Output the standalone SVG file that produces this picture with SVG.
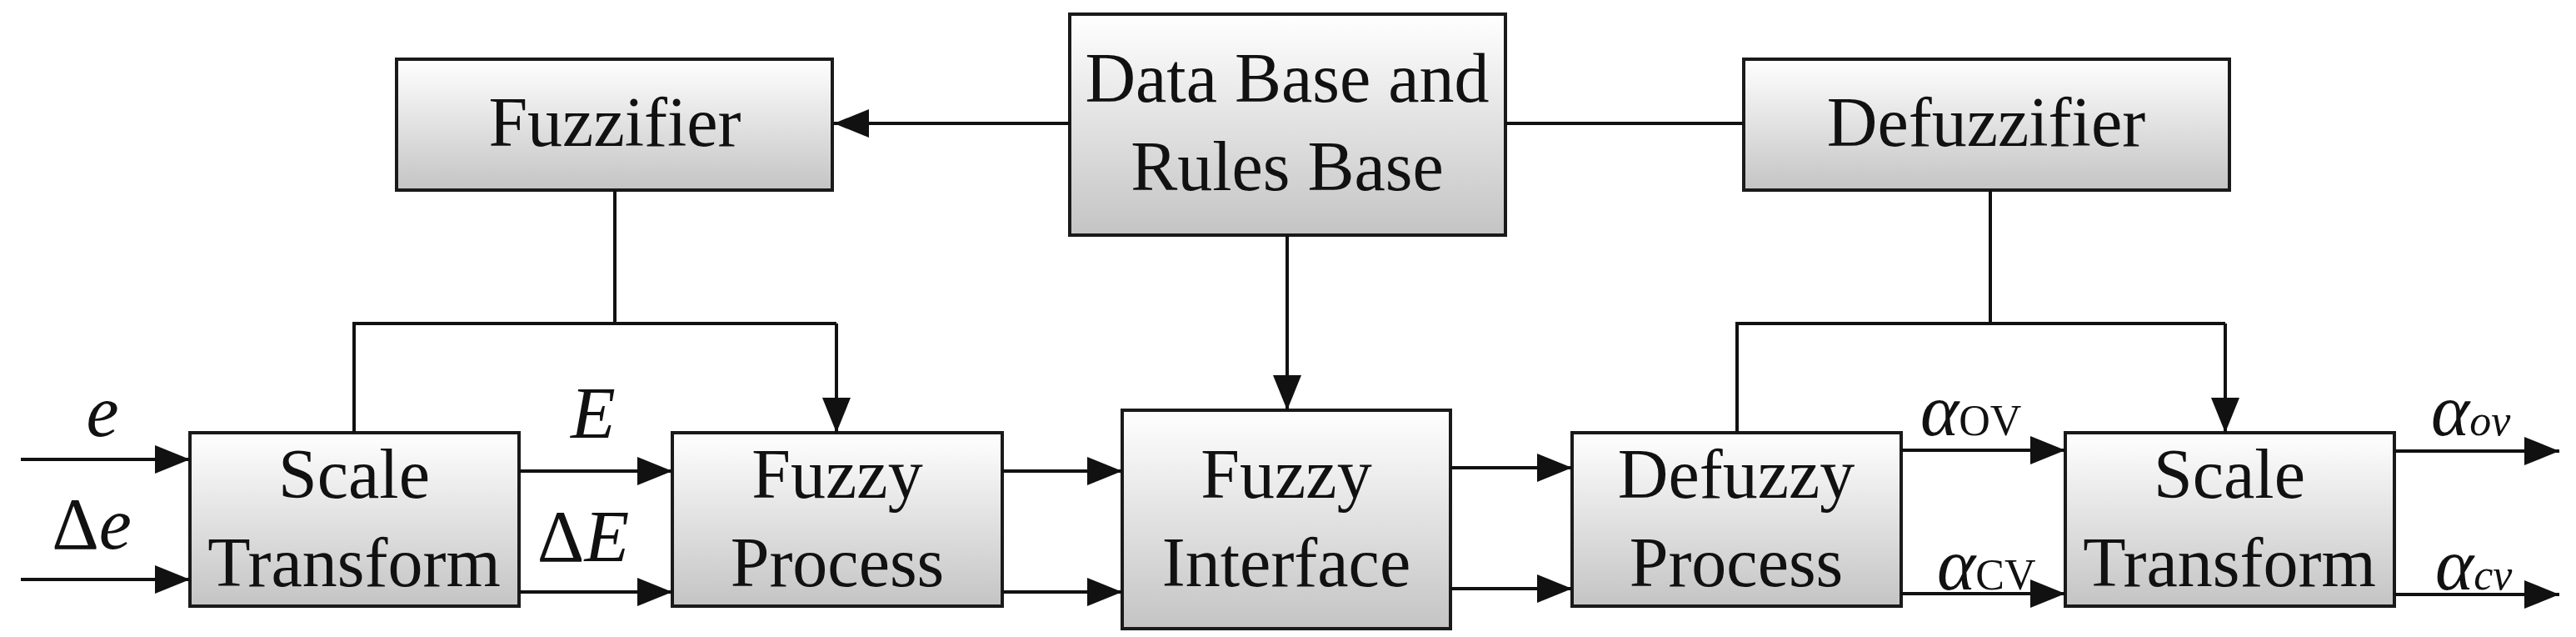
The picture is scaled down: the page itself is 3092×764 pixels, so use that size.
<svg xmlns="http://www.w3.org/2000/svg" width="3092" height="764" viewBox="0 0 3092 764">
<style>
.box{fill:url(#g);stroke:#1a1a1a;stroke-width:4}
.t{font-family:'Liberation Serif','Times New Roman','DejaVu Serif',serif;font-size:84px;text-anchor:middle;fill:#111}
.l{font-family:'Liberation Serif','Times New Roman','DejaVu Serif',serif;font-size:88px;fill:#111}
.s{font-size:52px}
.c{fill:none;stroke:#111;stroke-width:4}
</style>
<defs>
<linearGradient id="g" x1="0" y1="0" x2="0" y2="1"><stop offset="0" stop-color="#ffffff"/><stop offset="1" stop-color="#c4c4c4"/></linearGradient>
<marker id="a" markerUnits="userSpaceOnUse" markerWidth="44" markerHeight="34" refX="42" refY="17" orient="auto"><path d="M0,0 L42,17 L0,34 Z" fill="#111"/></marker>
</defs>
<g id="fuzzifier"><rect class="box" x="476" y="71" width="523" height="157"/><text class="t" x="738" y="175" font-family="Liberation Serif, serif">Fuzzifier</text></g>
<g id="database"><rect class="box" x="1284" y="17" width="523" height="265"/><text class="t" x="1545" y="122" font-family="Liberation Serif, serif">Data Base and</text><text class="t" x="1545" y="228" font-family="Liberation Serif, serif">Rules Base</text></g>
<g id="defuzzifier"><rect class="box" x="2093" y="71" width="583" height="157"/><text class="t" x="2384" y="175" font-family="Liberation Serif, serif">Defuzzifier</text></g>
<g id="scale1"><rect class="box" x="228" y="519" width="395" height="208"/><text class="t" x="425" y="597" font-family="Liberation Serif, serif">Scale</text><text class="t" x="425" y="703" font-family="Liberation Serif, serif">Transform</text></g>
<g id="fuzzyprocess"><rect class="box" x="807" y="519" width="396" height="208"/><text class="t" x="1005" y="597" font-family="Liberation Serif, serif">Fuzzy</text><text class="t" x="1005" y="703" font-family="Liberation Serif, serif">Process</text></g>
<g id="interface"><rect class="box" x="1347" y="492" width="394" height="262"/><text class="t" x="1544" y="597" font-family="Liberation Serif, serif">Fuzzy</text><text class="t" x="1544" y="703" font-family="Liberation Serif, serif">Interface</text></g>
<g id="defuzzyprocess"><rect class="box" x="1887" y="519" width="395" height="208"/><text class="t" x="2084" y="597" font-family="Liberation Serif, serif">Defuzzy</text><text class="t" x="2084" y="703" font-family="Liberation Serif, serif">Process</text></g>
<g id="scale2"><rect class="box" x="2479" y="519" width="395" height="208"/><text class="t" x="2676" y="597" font-family="Liberation Serif, serif">Scale</text><text class="t" x="2676" y="703" font-family="Liberation Serif, serif">Transform</text></g>
<g id="connectors">
<path class="c" d="M1284,148 H1001" marker-end="url(#a)"/>
<path class="c" d="M1807,148 H2093"/>
<path class="c" d="M1545,282 V492" marker-end="url(#a)"/>
<path class="c" d="M738,228 V388 M425,519 V388 H1004"/>
<path class="c" d="M1004,388 V519" marker-end="url(#a)"/>
<path class="c" d="M2389,228 V388 M2085,519 V388 H2671"/>
<path class="c" d="M2671,388 V519" marker-end="url(#a)"/>
<path class="c" d="M25,551 H228" marker-end="url(#a)"/>
<path class="c" d="M25,695 H228" marker-end="url(#a)"/>
<path class="c" d="M623,565 H807" marker-end="url(#a)"/>
<path class="c" d="M623,710 H807" marker-end="url(#a)"/>
<path class="c" d="M1203,565 H1347" marker-end="url(#a)"/>
<path class="c" d="M1203,710 H1347" marker-end="url(#a)"/>
<path class="c" d="M1741,561 H1887" marker-end="url(#a)"/>
<path class="c" d="M1741,706 H1887" marker-end="url(#a)"/>
<path class="c" d="M2282,540 H2479" marker-end="url(#a)"/>
<path class="c" d="M2282,712 H2479" marker-end="url(#a)"/>
<path class="c" d="M2874,541 H3072" marker-end="url(#a)"/>
<path class="c" d="M2874,713 H3072" marker-end="url(#a)"/>
</g>
<g id="labels" font-family="Liberation Serif, serif">
<text class="l" x="123" y="523" text-anchor="middle" font-style="italic" font-family="Liberation Serif, serif">e</text>
<text class="l" x="110" y="658" text-anchor="middle" font-family="Liberation Serif, serif">Δ<tspan font-style="italic">e</tspan></text>
<text class="l" x="712" y="525" text-anchor="middle" font-style="italic" font-family="Liberation Serif, serif">E</text>
<text class="l" x="700" y="673" text-anchor="middle" font-family="Liberation Serif, serif">Δ<tspan font-style="italic">E</tspan></text>
<text class="l" x="2305" y="522" font-family="Liberation Serif, serif"><tspan font-style="italic">α</tspan><tspan class="s">OV</tspan></text>
<text class="l" x="2325" y="707" font-family="Liberation Serif, serif"><tspan font-style="italic">α</tspan><tspan class="s">CV</tspan></text>
<text class="l" x="2918" y="522" font-style="italic" font-family="Liberation Serif, serif">α<tspan class="s">ov</tspan></text>
<text class="l" x="2923" y="707" font-style="italic" font-family="Liberation Serif, serif">α<tspan class="s">cv</tspan></text>
</g>
</svg>
